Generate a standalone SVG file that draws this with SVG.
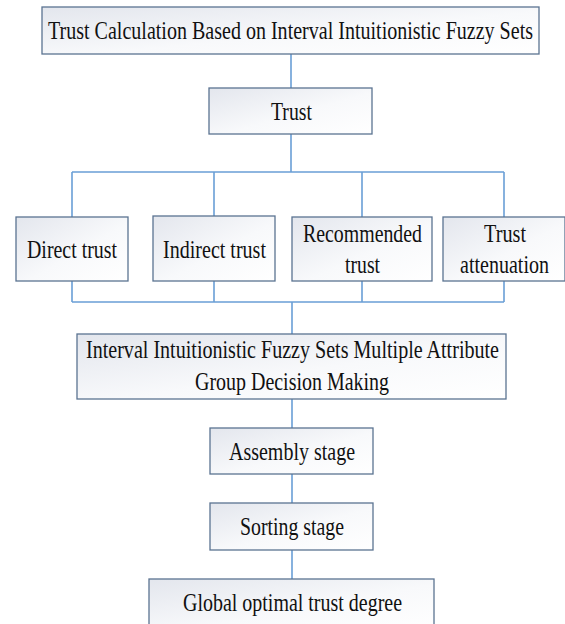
<svg xmlns="http://www.w3.org/2000/svg" width="565" height="624" viewBox="0 0 565 624">
<defs>
<linearGradient id="g" x1="0" y1="0" x2="1" y2="1">
<stop offset="0" stop-color="#e3e6ed"/>
<stop offset="0.55" stop-color="#f8f9fb"/>
<stop offset="1" stop-color="#ffffff"/>
</linearGradient>
<style>
.box{fill:url(#g);stroke:#5b7391;stroke-width:1.3}
.t{font-family:"Liberation Serif","Times New Roman",serif;font-size:26px;fill:#111;text-anchor:middle}
.c{stroke:#6a9fd6;stroke-width:1.6;fill:none}
</style>
</defs>
<rect width="565" height="624" fill="#ffffff"/>
<g id="connectors">
<path class="c" d="M291 54V88M291 134V172M72 172H504M72 172V217M214 172V216M362 172V217M504 172V217"/>
<path class="c" d="M72 281V302M214 281V302M362 281V302M504 281V302M72 302H504M292 302V334"/>
<path class="c" d="M292 399V428M292 474V503M292 550V579"/>
</g>
<g id="n-top"><rect class="box" x="42" y="7" width="497" height="47"/><text class="t" transform="translate(290.5 39) scale(0.75 1)" textLength="646.7" lengthAdjust="spacingAndGlyphs">Trust Calculation Based on Interval Intuitionistic Fuzzy Sets</text></g>
<g id="n-trust"><rect class="box" x="209" y="88" width="163" height="46"/><text class="t" transform="translate(291.5 120) scale(0.75 1)" textLength="54.7" lengthAdjust="spacingAndGlyphs">Trust</text></g>
<g id="n-direct"><rect class="box" x="16" y="217" width="112" height="64"/><text class="t" transform="translate(72 258) scale(0.75 1)" textLength="120" lengthAdjust="spacingAndGlyphs">Direct trust</text></g>
<g id="n-indirect"><rect class="box" x="153" y="216" width="122" height="65"/><text class="t" transform="translate(214.5 258) scale(0.75 1)" textLength="137.3" lengthAdjust="spacingAndGlyphs">Indirect trust</text></g>
<g id="n-recommended"><rect class="box" x="292" y="217" width="140" height="64"/><text class="t" transform="translate(362.5 242) scale(0.75 1)" textLength="158.7" lengthAdjust="spacingAndGlyphs">Recommended</text><text class="t" transform="translate(362.5 273) scale(0.75 1)" textLength="46.7" lengthAdjust="spacingAndGlyphs">trust</text></g>
<g id="n-attenuation"><rect class="box" x="443" y="217" width="122" height="64"/><text class="t" transform="translate(505 242) scale(0.75 1)" textLength="56" lengthAdjust="spacingAndGlyphs">Trust</text><text class="t" transform="translate(504.5 273) scale(0.75 1)" textLength="118.7" lengthAdjust="spacingAndGlyphs">attenuation</text></g>
<g id="n-iifs"><rect class="box" x="77" y="334" width="429" height="65"/><text class="t" transform="translate(292.5 358) scale(0.75 1)" textLength="550.7" lengthAdjust="spacingAndGlyphs">Interval Intuitionistic Fuzzy Sets Multiple Attribute</text><text class="t" transform="translate(292 390) scale(0.75 1)" textLength="258.7" lengthAdjust="spacingAndGlyphs">Group Decision Making</text></g>
<g id="n-assembly"><rect class="box" x="210" y="428" width="163" height="46"/><text class="t" transform="translate(292 460) scale(0.75 1)" textLength="168" lengthAdjust="spacingAndGlyphs">Assembly stage</text></g>
<g id="n-sorting"><rect class="box" x="210" y="503" width="163" height="47"/><text class="t" transform="translate(292 535) scale(0.75 1)" textLength="138.7" lengthAdjust="spacingAndGlyphs">Sorting stage</text></g>
<g id="n-global"><rect class="box" x="149" y="579" width="285" height="52"/><text class="t" transform="translate(292.5 611) scale(0.75 1)" textLength="292" lengthAdjust="spacingAndGlyphs">Global optimal trust degree</text></g>
</svg>
